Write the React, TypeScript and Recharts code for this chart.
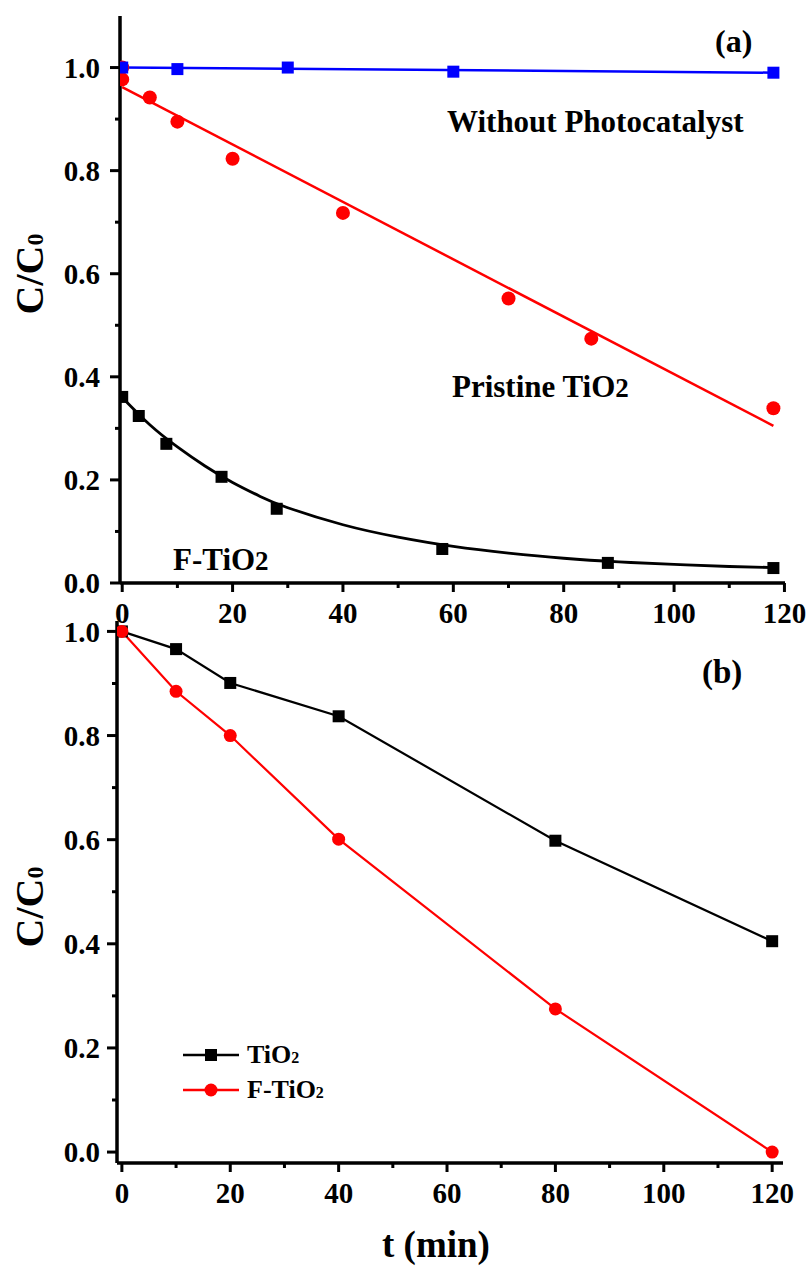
import React from 'react';
import { ComposedChart, Line, XAxis, YAxis, Legend } from 'recharts';

const SERIF = '"Liberation Serif", "Times New Roman", Times, serif';

// panel (a)
const blankTime = [0, 10, 30, 60, 118];
const blankValues = [1.0, 0.997, 1.0, 0.992, 0.99];
const blankFitTime = [0, 118];
const blankFitValues = [1.0, 0.99];

const pristineTime = [0, 0, 5, 10, 20, 40, 70, 85, 118];
const pristineValues = [1.0, 0.977, 0.942, 0.895, 0.823, 0.718, 0.552, 0.474, 0.339];
const pristineFitTime = [0, 118];
const pristineFitValues = [0.962, 0.305];

const fTime = [0, 3, 8, 18, 28, 58, 88, 118];
const fValues = [0.361, 0.324, 0.27, 0.206, 0.144, 0.066, 0.039, 0.029];
const fFitTime = [0, 5, 10, 15, 20, 25, 30, 40, 50, 60, 70, 80, 90, 100, 110, 118];
const fFitValues = [0.36, 0.307, 0.264, 0.227, 0.195, 0.168, 0.146, 0.113, 0.089, 0.071, 0.058, 0.048, 0.041, 0.036, 0.032, 0.03];

// panel (b)
const timeB = [0, 10, 20, 40, 80, 120];
const tio2Values = [1.0, 0.966, 0.901, 0.837, 0.598, 0.405];
const fTio2Values = [1.0, 0.885, 0.8, 0.601, 0.275, 0.0];
const legendNames = ['TiO2', 'F-TiO2'];

const xTicks = [0, 10, 20, 30, 40, 50, 60, 70, 80, 90, 100, 110, 120];
const yTicks = [0, 0.1, 0.2, 0.3, 0.4, 0.5, 0.6, 0.7, 0.8, 0.9, 1.0];

const rows = (xs: number[], ys: number[]) => xs.map((t, i) => ({ t, v: ys[i] }));

const tickFont = { fontFamily: SERIF, fontWeight: 700, fontSize: 29, fill: '#000' };

const isMajorX = (v: number) => Math.round(v) % 20 === 0;
const isMajorY = (v: number) => Math.round(v * 10) % 2 === 0;

function BottomTick(props: any) {
  const { x, y, payload } = props;
  const v = payload.value;
  const major = isMajorX(v);
  return (
    <g>
      <line x1={x} x2={x} y1={y} y2={y + (major ? 9 : 5)} stroke="#000" strokeWidth={3} />
      {major && (
        <text x={x} y={y + 40} textAnchor="middle" style={tickFont}>
          {v}
        </text>
      )}
    </g>
  );
}

function TopTick(props: any) {
  const { x, y, payload } = props;
  if (payload.value <= 0 || payload.value >= 120) return <g />;
  return <line x1={x} x2={x} y1={y} y2={y - 4} stroke="#555" strokeWidth={1.5} />;
}

function LeftTick(props: any) {
  const { x, y, payload, gap } = props;
  const v = payload.value;
  const major = isMajorY(v);
  return (
    <g>
      <line x1={x} x2={x - (major ? 10 : 5)} y1={y} y2={y} stroke="#000" strokeWidth={3} />
      {major && (
        <text x={x - gap} y={y} dy="0.35em" textAnchor="end" style={tickFont}>
          {v.toFixed(1)}
        </text>
      )}
    </g>
  );
}

const squareDot = (size: number, fill: string) => (p: any) => (
  <rect
    key={`sq-${fill}-${p.index}`}
    x={p.cx - size / 2}
    y={p.cy - size / 2}
    width={size}
    height={size}
    fill={fill}
  />
);

const axisLine = { stroke: '#000', strokeWidth: 3.5 };

function renderLegend(props: any) {
  const items = props.payload || [];
  return (
    <svg width={180} height={70} style={{ overflow: 'visible' }}>
      {legendNames.map((name, i) => {
        const it = items.find((p: any) => p.value === name);
        if (!it) return null;
        const y = 17 + i * 35;
        const c = it.color;
        return (
          <g key={name}>
            <line x1={5} x2={61} y1={y} y2={y} stroke={c} strokeWidth={2.5} />
            {i === 0 ? (
              <rect x={27} y={y - 6} width={12} height={12} fill={c} />
            ) : (
              <circle cx={33} cy={y} r={6.5} fill={c} />
            )}
            <text x={69} y={y + 8} style={{ fontFamily: SERIF, fontWeight: 700, fontSize: 26, fill: '#000' }}>
              {name.slice(0, -1)}
              <tspan fontSize={16}>{name.slice(-1)}</tspan>
            </text>
          </g>
        );
      })}
    </svg>
  );
}

const labelStyle = { fontFamily: SERIF, fontWeight: 700, fill: '#000' };

export default function App() {
  return (
    <div style={{ position: 'absolute', left: 0, top: 0, width: 809, height: 1266, background: '#fff' }}>
      <div style={{ position: 'absolute', left: 0, top: 0 }}>
        <ComposedChart width={809} height={640} margin={{ top: 16, right: 24, bottom: 17, left: 0 }}>
          <XAxis
            type="number"
            dataKey="t"
            domain={[-0.4, 120.1]}
            allowDataOverflow
            ticks={xTicks}
            interval={0}
            height={40}
            tickSize={0}
            tickMargin={0}
            tickLine={false}
            axisLine={axisLine}
            tick={(p: any) => <BottomTick {...p} />}
          />
          <XAxis
            xAxisId="top"
            orientation="top"
            type="number"
            domain={[-0.4, 120.1]}
            allowDataOverflow
            ticks={xTicks}
            interval={0}
            height={0}
            tickSize={0}
            tickMargin={0}
            tickLine={false}
            axisLine={axisLine}
            tick={(p: any) => <TopTick {...p} />}
          />
          <YAxis
            type="number"
            dataKey="v"
            domain={[0, 1.1]}
            allowDataOverflow
            ticks={yTicks}
            interval={0}
            width={120}
            tickSize={0}
            tickMargin={0}
            tickLine={false}
            axisLine={axisLine}
            tick={(p: any) => <LeftTick {...p} gap={20} />}
          />
          <YAxis
            yAxisId="right"
            orientation="right"
            type="number"
            domain={[0, 1.1]}
            width={0}
            tick={false}
            tickLine={false}
            axisLine={axisLine}
          />
          <Line
            data={rows(pristineFitTime, pristineFitValues)}
            dataKey="v"
            stroke="#ff0000"
            strokeWidth={2.5}
            dot={false}
            activeDot={false}
            isAnimationActive={false}
          />
          <Line
            data={rows(fFitTime, fFitValues)}
            dataKey="v"
            type="natural"
            stroke="#000"
            strokeWidth={2.8}
            dot={false}
            activeDot={false}
            isAnimationActive={false}
          />
          <Line
            data={rows(blankFitTime, blankFitValues)}
            dataKey="v"
            stroke="#0000ff"
            strokeWidth={2.5}
            dot={false}
            activeDot={false}
            isAnimationActive={false}
          />
          <Line
            data={rows(pristineTime, pristineValues)}
            dataKey="v"
            stroke="none"
            dot={{ r: 7, fill: '#ff0000', stroke: 'none', strokeWidth: 0 }}
            activeDot={false}
            isAnimationActive={false}
          />
          <Line
            data={rows(fTime, fValues)}
            dataKey="v"
            stroke="none"
            dot={squareDot(12, '#000')}
            activeDot={false}
            isAnimationActive={false}
          />
          <Line
            data={rows(blankTime, blankValues)}
            dataKey="v"
            stroke="none"
            dot={squareDot(12, '#0000ff')}
            activeDot={false}
            isAnimationActive={false}
          />
        </ComposedChart>
      </div>

      <div style={{ position: 'absolute', left: 0, top: 600 }}>
        <ComposedChart width={809} height={666} margin={{ top: 21, right: 26, bottom: 0, left: 0 }}>
          <XAxis
            type="number"
            dataKey="t"
            domain={[-0.9, 122]}
            allowDataOverflow
            ticks={xTicks}
            interval={0}
            height={103}
            tickSize={0}
            tickMargin={0}
            tickLine={false}
            axisLine={axisLine}
            tick={(p: any) => <BottomTick {...p} />}
          />
          <YAxis
            type="number"
            dataKey="v"
            domain={[-0.021, 1.02]}
            allowDataOverflow
            ticks={yTicks}
            interval={0}
            width={117}
            tickSize={0}
            tickMargin={0}
            tickLine={false}
            axisLine={axisLine}
            tick={(p: any) => <LeftTick {...p} gap={17} />}
          />
          <YAxis
            yAxisId="right"
            orientation="right"
            type="number"
            domain={[-0.021, 1.02]}
            width={0}
            tick={false}
            tickLine={false}
            axisLine={axisLine}
          />
          <Legend
            layout="vertical"
            align="center"
            verticalAlign="middle"
            wrapperStyle={{ left: 178, top: 438, width: 180, height: 70 }}
            content={renderLegend}
          />
          <Line
            name="TiO2"
            data={rows(timeB, tio2Values)}
            dataKey="v"
            stroke="#000"
            strokeWidth={2.2}
            dot={squareDot(12, '#000')}
            activeDot={false}
            isAnimationActive={false}
          />
          <Line
            name="F-TiO2"
            data={rows(timeB, fTio2Values)}
            dataKey="v"
            stroke="#ff0000"
            strokeWidth={2.2}
            dot={{ r: 6.5, fill: '#ff0000', stroke: 'none', strokeWidth: 0 }}
            activeDot={false}
            isAnimationActive={false}
          />
        </ComposedChart>
      </div>

      <svg
        width={809}
        height={1266}
        style={{ position: 'absolute', left: 0, top: 0, pointerEvents: 'none' }}
      >
        <text x={715} y={52} style={{ ...labelStyle, fontSize: 32 }}>(a)</text>
        <text x={447} y={132} style={{ ...labelStyle, fontSize: 31 }}>Without Photocatalyst</text>
        <text x={452} y={397} style={{ ...labelStyle, fontSize: 31 }}>
          Pristine TiO<tspan fontSize={27}>2</tspan>
        </text>
        <text x={173} y={570} style={{ ...labelStyle, fontSize: 31 }}>
          F-TiO<tspan fontSize={27}>2</tspan>
        </text>
        <text x={702} y={683} style={{ ...labelStyle, fontSize: 33 }}>(b)</text>
        <text transform="translate(43, 274) rotate(-90)" textAnchor="middle" style={{ ...labelStyle, fontSize: 40 }}>
          C/C<tspan fontSize={24}>0</tspan>
        </text>
        <text transform="translate(43, 907) rotate(-90)" textAnchor="middle" style={{ ...labelStyle, fontSize: 40 }}>
          C/C<tspan fontSize={24}>0</tspan>
        </text>
        <text x={436} y={1257} textAnchor="middle" style={{ ...labelStyle, fontSize: 37 }}>t (min)</text>
      </svg>
    </div>
  );
}
